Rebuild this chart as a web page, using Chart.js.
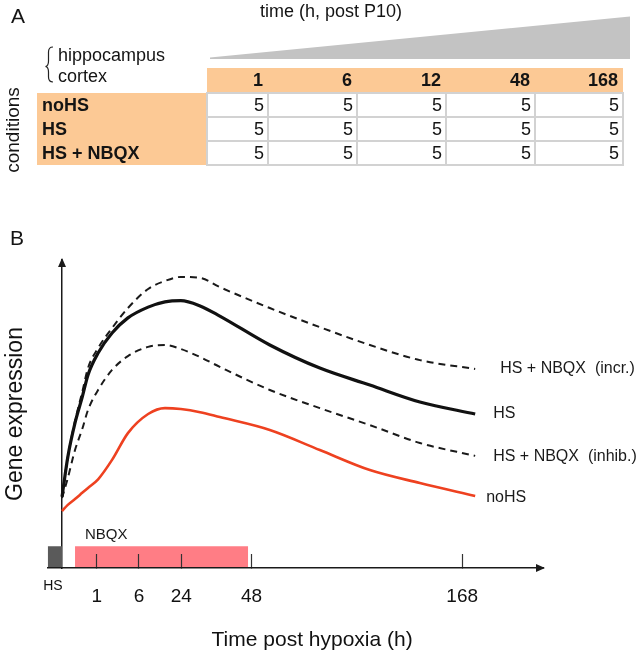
<!DOCTYPE html>
<html>
<head>
<meta charset="utf-8">
<title>Gene expression after hypoxia</title>
<script src="https://cdn.jsdelivr.net/npm/chart.js@4.4.1/dist/chart.umd.min.js"></script>
<style>
html, body { margin: 0; padding: 0; background: #fff; }
body { position: relative; width: 642px; height: 658px; overflow: hidden;
       font-family: "Liberation Sans", Arial, sans-serif; color: #141414; }
#geneChart { position: absolute; left: 0; top: 0; }
.txt { position: absolute; white-space: nowrap; line-height: 1; z-index: 2; }
.box { position: absolute; box-sizing: border-box; white-space: nowrap; z-index: 1; }
</style>
</head>
<body>
<canvas id="geneChart" width="642" height="658"></canvas>

<svg width="642" height="100" style="position:absolute;left:0;top:0;z-index:1">
  <polygon points="210,59 210,57.5 630,16.5 630,59" fill="#c3c3c3"/>
  <path d="M53,47 Q48.5,47 48.5,52 L48.5,61 Q48.5,66 45.5,66.5 Q48.5,67 48.5,72 L48.5,77 Q48.5,82 53,82"
        fill="none" stroke="#222" stroke-width="1.2"/>
</svg>

<div class="txt" style="left:11px;top:5px;font-size:21px">A</div>
<div class="txt" style="left:260px;top:2px;font-size:18px">time (h, post P10)</div>
<div class="txt" style="left:58px;top:46px;font-size:18px">hippocampus</div>
<div class="txt" style="left:58px;top:67px;font-size:18px">cortex</div>
<div class="txt" style="left:12px;top:130px;font-size:19px;transform:translate(-50%,-50%) rotate(-90deg)">conditions</div>
<div id="tableA"></div>
<div class="txt" style="left:10px;top:227px;font-size:21px">B</div>

<script>
// panel A: study design
const timepoints = ['1', '6', '12', '48', '168'];
const conditions = ['noHS', 'HS', 'HS + NBQX'];
const animalsPerGroup = [
  [5, 5, 5, 5, 5],
  [5, 5, 5, 5, 5],
  [5, 5, 5, 5, 5]
];

// panel B: schematic time axis (positions along the axis, not hours)
const axisTickPos = [-1.9, 7.2, 16.0, 24.8, 39.4, 83.2];
const axisTickLabels = ['HS', '1', '6', '24', '48', '168'];
const hsPulse = [-3, 0];
const nbqxPeriod = [2.7, 38.7];
const treatmentBar = 7.1;

// schematic expression curves
const curveX = [0, 1.2, 2.7, 4.2, 5.4, 7.5, 10.4, 13.7, 17.9, 21.4, 24.7, 28.7, 32.8, 43.2, 53.6, 64.0, 74.4, 85.9];
const hsExpr    = [23.1, 36.0, 47.1, 55.5, 62.7, 69.8, 76.3, 81.2, 84.7, 86.4, 86.8, 85.1, 81.8, 72.4, 64.9, 59.4, 53.9, 50.0];
const incrExpr  = [23.1, 36.0, 47.7, 57.1, 64.9, 71.4, 77.9, 84.4, 90.6, 93.2, 94.5, 94.2, 91.2, 84.4, 78.2, 72.4, 67.5, 64.6];
const inhibExpr = [22.7, 29.2, 38.3, 45.1, 51.3, 57.8, 64.3, 68.8, 71.8, 72.4, 71.1, 68.5, 65.3, 57.8, 51.9, 46.4, 40.6, 36.4];
const noHsExpr  = [18.5, 20.5, 22.4, 24.4, 26.0, 28.8, 35.1, 43.8, 50.0, 51.9, 51.6, 50.6, 49.0, 44.8, 38.3, 31.8, 27.6, 23.4];

const xTitle = 'Time post hypoxia (h)';
const yTitle = 'Gene expression';

// ---- table (panel A) ----
const orange = '#fcc995';
const colEdges = [207, 268, 357, 446, 535, 623];
const tableEl = document.getElementById('tableA');

function addBox(style, text) {
  const d = document.createElement('div');
  d.className = 'box';
  d.style.cssText = style;
  if (text !== undefined) d.textContent = text;
  tableEl.appendChild(d);
}

addBox('left:207px;top:68px;width:416px;height:25px;background:' + orange);
addBox('left:37px;top:93px;width:170px;height:72px;background:' + orange);

timepoints.forEach((t, i) => {
  const w = colEdges[i + 1] - colEdges[i];
  addBox('left:' + colEdges[i] + 'px;top:68px;width:' + w + 'px;height:25px;line-height:25px;' +
         'text-align:right;padding-right:5px;font-weight:bold;font-size:18px;z-index:2', t);
});

conditions.forEach((c, r) => {
  const top = 93 + r * 24;
  addBox('left:42px;top:' + top + 'px;height:24px;line-height:24px;font-weight:bold;font-size:18px;z-index:2', c);
  animalsPerGroup[r].forEach((n, i) => {
    const w = colEdges[i + 1] - colEdges[i];
    addBox('left:' + (colEdges[i] - 1) + 'px;top:' + (top - 1) + 'px;width:' + (w + 2) + 'px;height:26px;' +
           'border:2px solid #d2d2d2;background:#fff;line-height:22px;text-align:right;padding-right:3px;font-size:18px',
           String(n));
  });
});

// ---- chart (panel B) ----
Chart.defaults.font.family = '"Liberation Sans", Arial, sans-serif';
Chart.defaults.color = '#141414';

const pts = ys => curveX.map((x, i) => ({x: x, y: ys[i]}));
const span = xs => xs.map(x => ({x: x, y: treatmentBar}));
const labelFont = '16px "Liberation Sans", Arial, sans-serif';

const labelPlugin = {
  id: 'labels',
  afterDatasetsDraw(chart) {
    const ctx = chart.ctx;
    chart.data.datasets.forEach((ds, i) => {
      if (!ds.endLabel) return;
      const els = chart.getDatasetMeta(i).data;
      const p = ds.endLabel.atStart ? els[0] : els[els.length - 1];
      ctx.save();
      ctx.font = ds.endLabel.font || labelFont;
      ctx.fillStyle = '#1a1a1a';
      ctx.textAlign = 'left';
      ctx.textBaseline = 'middle';
      ctx.fillText(ds.endLabel.text, p.x + ds.endLabel.dx, p.y + ds.endLabel.dy);
      ctx.restore();
    });
  },
  afterDraw(chart) {
    const ctx = chart.ctx;
    const area = chart.chartArea;
    const xs = chart.scales.x;
    const x0 = xs.getPixelForValue(0);
    const yb = area.bottom;
    ctx.save();
    ctx.fillStyle = '#1a1a1a';
    // arrow heads
    ctx.beginPath();
    ctx.moveTo(area.right + 2, yb);
    ctx.lineTo(area.right - 7, yb - 4);
    ctx.lineTo(area.right - 7, yb + 4);
    ctx.closePath();
    ctx.fill();
    ctx.beginPath();
    ctx.moveTo(x0, area.top - 2);
    ctx.lineTo(x0 - 4, area.top + 7);
    ctx.lineTo(x0 + 4, area.top + 7);
    ctx.closePath();
    ctx.fill();
    // axis titles
    ctx.fillStyle = '#111';
    ctx.textAlign = 'center';
    ctx.textBaseline = 'middle';
    ctx.font = '21px "Liberation Sans", Arial, sans-serif';
    ctx.fillText(xTitle, xs.getPixelForValue(52), yb + 72);
    ctx.translate(16, (area.top + area.bottom) / 2);
    ctx.rotate(-Math.PI / 2);
    ctx.font = '23px "Liberation Sans", Arial, sans-serif';
    ctx.fillText(yTitle, 0, 0);
    ctx.restore();
  }
};

const ctx = document.getElementById('geneChart').getContext('2d');
const geneChart = new Chart(ctx, {
  type: 'line',
  data: {
    datasets: [
      {
        label: 'HS',
        data: pts(hsExpr),
        borderColor: '#111',
        borderWidth: 3.2,
        endLabel: {text: 'HS', dx: 18, dy: 0}
      },
      {
        label: 'HS + NBQX (incr.)',
        data: pts(incrExpr),
        borderColor: '#1a1a1a',
        borderWidth: 2,
        borderDash: [7, 5],
        endLabel: {text: 'HS + NBQX  (incr.)', dx: 25, dy: 0}
      },
      {
        label: 'HS + NBQX (inhib.)',
        data: pts(inhibExpr),
        borderColor: '#1a1a1a',
        borderWidth: 2,
        borderDash: [7, 5],
        endLabel: {text: 'HS + NBQX  (inhib.)', dx: 18, dy: 1}
      },
      {
        label: 'noHS',
        data: pts(noHsExpr),
        borderColor: '#ee4120',
        borderWidth: 2.6,
        endLabel: {text: 'noHS', dx: 11, dy: 2}
      },
      {
        label: 'NBQX',
        data: span(nbqxPeriod),
        fill: 'origin',
        backgroundColor: '#ff7d85',
        borderWidth: 0,
        endLabel: {text: 'NBQX', atStart: true, dx: 10, dy: -11, font: '15px "Liberation Sans", Arial, sans-serif'}
      },
      {
        label: 'HS pulse',
        data: span(hsPulse),
        fill: 'origin',
        backgroundColor: '#5a5a5a',
        borderWidth: 0
      }
    ]
  },
  options: {
    responsive: false,
    animation: false,
    layout: {padding: {left: 47.6, right: 99, top: 260, bottom: 0}},
    elements: {
      point: {radius: 0},
      line: {cubicInterpolationMode: 'monotone', fill: false}
    },
    plugins: {
      legend: {display: false},
      tooltip: {enabled: false}
    },
    scales: {
      x: {
        type: 'linear',
        min: -3,
        max: 100,
        afterBuildTicks: s => { s.ticks = axisTickPos.map(v => ({value: v})); },
        afterFit: s => { s.height = 90; },
        // grid (tick marks) and border above the NBQX bar; border after grid
        border: {color: '#1a1a1a', width: 1.5, z: 1},
        grid: {
          drawOnChartArea: false,
          drawTicks: true,
          tickLength: -14,
          tickWidth: 1.2,
          tickColor: c => c.index === 0 ? 'rgba(0,0,0,0)' : '#333',
          z: 1
        },
        ticks: {
          autoSkip: false,
          maxRotation: 0,
          padding: 31,
          color: '#111',
          callback: (v, i) => axisTickLabels[i],
          font: c => c.index === 0 ? {size: 14, lineHeight: 0.2} : {size: 19}
        }
      },
      y: {
        type: 'linear',
        min: 0,
        max: 100,
        position: {x: 0},
        ticks: {display: false},
        grid: {display: false},
        border: {color: '#1a1a1a', width: 1.5}
      }
    }
  },
  plugins: [labelPlugin]
});
</script>
</body>
</html>
